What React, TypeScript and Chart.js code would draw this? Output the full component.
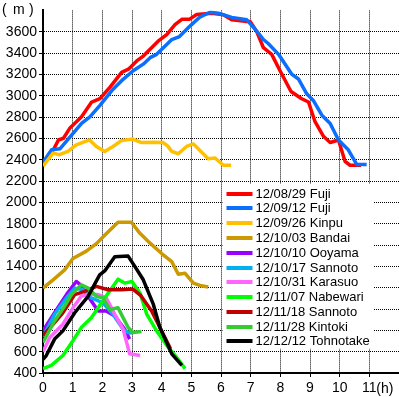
import { useEffect, useRef } from 'react';
import { Chart, registerables } from 'chart.js';

Chart.register(...registerables);

const FONT = "'Liberation Sans', Arial, sans-serif";

// ---- data ----
const seriesNames = [
  '12/08/29 Fuji',
  '12/09/12 Fuji',
  '12/09/26 Kinpu',
  '12/10/03 Bandai',
  '12/10/10 Ooyama',
  '12/10/17 Sannoto',
  '12/10/31 Karasuo',
  '12/11/07 Nabewari',
  '12/11/18 Sannoto',
  '12/11/28 Kintoki',
  '12/12/12 Tohnotake',
];

const seriesColors = [
  '#FF0000',
  '#0A6EFF',
  '#FFC000',
  '#CC9900',
  '#9900FF',
  '#00B0F0',
  '#FF66FF',
  '#00FF00',
  '#C00000',
  '#33CC33',
  '#000000',
];

const fuji0829Hours = [0, 0.35, 0.52, 0.69, 0.9, 1.3, 1.64, 1.92, 2.26, 2.65, 2.88, 3.16, 3.38, 3.66, 3.88, 4.17, 4.45, 4.68, 4.93, 5.18, 5.69, 6.08, 6.36, 6.81, 6.98, 7.2, 7.43, 7.71, 7.99, 8.36, 8.72, 8.95, 9.17, 9.46, 9.68, 9.96, 10.18, 10.35, 10.72];
const fuji0829Meters = [2354, 2493, 2585, 2601, 2694, 2802, 2941, 2972, 3080, 3219, 3249, 3326, 3372, 3450, 3511, 3573, 3666, 3716, 3716, 3762, 3774, 3759, 3712, 3697, 3697, 3604, 3450, 3388, 3234, 3040, 2972, 2941, 2756, 2617, 2561, 2585, 2385, 2348, 2348];

const fuji0912Hours = [0, 0.29, 0.57, 0.97, 1.3, 1.58, 1.92, 2.32, 2.65, 3.04, 3.38, 3.61, 3.83, 4.17, 4.34, 4.6, 4.98, 5.3, 5.63, 5.91, 6.36, 6.87, 7.21, 7.43, 7.6, 7.94, 8.38, 8.61, 8.89, 9.11, 9.4, 9.68, 9.96, 10.29, 10.58, 10.91];
const fuji0912Meters = [2376, 2493, 2502, 2632, 2740, 2802, 2910, 3048, 3141, 3234, 3296, 3357, 3388, 3481, 3527, 3555, 3660, 3740, 3783, 3774, 3734, 3712, 3604, 3527, 3487, 3388, 3203, 3157, 3018, 2956, 2817, 2740, 2585, 2493, 2354, 2354];

const kinpuHours = [0, 0.34, 0.56, 0.84, 1.12, 1.57, 1.8, 2.08, 2.36, 2.64, 3.03, 3.32, 3.76, 4.05, 4.2, 4.34, 4.56, 4.84, 5.07, 5.57, 5.8, 6.08, 6.34];
const kinpuMeters = [2340, 2462, 2447, 2478, 2539, 2585, 2524, 2478, 2524, 2579, 2594, 2561, 2564, 2561, 2530, 2478, 2456, 2524, 2548, 2410, 2416, 2348, 2348];

const bandaiHours = [0, 0.34, 0.73, 1.01, 1.46, 1.8, 2.13, 2.53, 2.98, 3.26, 3.6, 4.0, 4.34, 4.56, 4.79, 5.07, 5.29, 5.57];
const bandaiMeters = [1196, 1274, 1367, 1474, 1543, 1613, 1706, 1814, 1814, 1712, 1620, 1520, 1444, 1326, 1335, 1243, 1221, 1206];

const ooyamaHours = [0, 0.39, 0.79, 1.12, 1.24, 1.52, 1.86, 2.13, 2.42, 2.75, 2.92];
const ooyamaMeters = [795, 965, 1135, 1258, 1233, 1119, 981, 981, 934, 811, 718];

const sannoto1017Hours = [0, 0.39, 0.79, 1.07, 1.35, 1.63, 2.02, 2.36, 2.7, 2.87, 3.0];
const sannoto1017Meters = [740, 950, 1104, 1196, 1181, 1104, 1057, 950, 811, 780, 775];

const karasuoHours = [0, 0.23, 0.67, 1.01, 1.29, 1.52, 1.86, 2.13, 2.42, 2.7, 2.92, 3.27];
const karasuoMeters = [600, 733, 857, 1011, 1119, 1135, 1135, 1104, 950, 811, 580, 564];

const nabewariHours = [0, 0.28, 0.67, 1.01, 1.29, 1.63, 2.08, 2.53, 2.75, 3.0, 3.27, 3.5, 3.83, 4.22, 4.5, 4.79];
const nabewariMeters = [441, 471, 564, 703, 826, 919, 1104, 1280, 1243, 1258, 1150, 950, 795, 641, 548, 441];

const sannoto1118Hours = [0, 0.34, 0.67, 1.07, 1.4, 1.8, 2.19, 2.64, 3.03, 3.3, 3.66, 3.94, 4.22, 4.3];
const sannoto1118Meters = [749, 857, 965, 1135, 1166, 1212, 1181, 1181, 1187, 1125, 981, 826, 672, 626];

const kintokiHours = [0, 0.39, 0.73, 0.96, 1.29, 1.52, 1.8, 2.02, 2.25, 2.53, 2.87, 3.03, 3.32];
const kintokiMeters = [687, 888, 1027, 1135, 1228, 1196, 1119, 1104, 996, 1011, 826, 780, 789];

const tohnotakeHours = [0, 0.11, 0.39, 0.67, 1.07, 1.52, 1.91, 2.08, 2.42, 2.87, 3.1, 3.38, 3.72, 3.94, 4.34, 4.68];
const tohnotakeMeters = [527, 564, 718, 795, 965, 1119, 1320, 1357, 1490, 1496, 1397, 1274, 1043, 826, 580, 471];

const hoursList = [fuji0829Hours, fuji0912Hours, kinpuHours, bandaiHours, ooyamaHours, sannoto1017Hours, karasuoHours, nabewariHours, sannoto1118Hours, kintokiHours, tohnotakeHours];
const metersList = [fuji0829Meters, fuji0912Meters, kinpuMeters, bandaiMeters, ooyamaMeters, sannoto1017Meters, karasuoMeters, nabewariMeters, sannoto1118Meters, kintokiMeters, tohnotakeMeters];

const yMin = 400;
const yMax = 3800;
const yStep = 200;
const xMin = 0;
const xMax = 12;
const yUnit = ['(', 'm', ')'];
const xUnit = '(h)';

const overlayPlugin = {
  id: 'overlay',
  afterDraw(chart: any) {
    const ctx = chart.ctx as CanvasRenderingContext2D;
    const xs = chart.scales.x;
    const ys = chart.scales.y;
    ctx.save();
    // legend box
    const left = xs.getPixelForValue(6) + 1.5;
    const right = xs.getPixelForValue(11) + 4;
    const top = ys.getPixelForValue(2200) + 3;
    const bottom = ys.getPixelForValue(600) - 3;
    ctx.fillStyle = '#ffffff';
    ctx.fillRect(left, top, right - left, bottom - top);
    ctx.font = `13px ${FONT}`;
    ctx.textBaseline = 'middle';
    ctx.textAlign = 'left';
    const rowH = 14.76;
    const firstRow = top + 9.7;
    seriesNames.forEach((name, i) => {
      const y = Math.round(firstRow + i * rowH);
      ctx.strokeStyle = seriesColors[i];
      ctx.lineWidth = 4;
      ctx.beginPath();
      ctx.moveTo(left + 4, y);
      ctx.lineTo(left + 30, y);
      ctx.stroke();
      ctx.fillStyle = '#000';
      ctx.fillText(name, left + 33, y + 0.5);
    });
    // unit labels
    ctx.font = `14px ${FONT}`;
    ctx.fillStyle = '#000';
    ctx.fillText(yUnit[0], 2, 10);
    ctx.fillText(yUnit[1], 13, 10);
    ctx.fillText(yUnit[2], 29, 10);
    ctx.fillText(xUnit, xs.getPixelForValue(11) + 7, 389);
    ctx.restore();
  },
};

export default function App() {
  const ref = useRef<HTMLCanvasElement>(null);
  useEffect(() => {
    document.body.style.margin = '0';
    const canvas = ref.current;
    if (!canvas) return;
    const datasets = seriesNames.map((name, i) => ({
      label: name,
      data: hoursList[i].map((h, j) => ({ x: h, y: metersList[i][j] })),
      borderColor: seriesColors[i],
      backgroundColor: seriesColors[i],
      borderWidth: 3.5,
      pointRadius: 0,
      pointHoverRadius: 0,
      tension: 0,
      fill: false,
      borderJoinStyle: 'round' as const,
      order: 20 - i,
    }));
    const hideAt = (v: number) => (ctx: any) =>
      ctx.tick && ctx.tick.value === v ? 'rgba(0,0,0,0)' : '#000';
    const chart = new Chart(canvas, {
      type: 'line',
      data: { datasets },
      plugins: [overlayPlugin],
      options: {
        animation: false,
        responsive: false,
        devicePixelRatio: 1,
        layout: { padding: { top: 5, right: 0, left: 0, bottom: 0 } },
        plugins: { legend: { display: false }, tooltip: { enabled: false } },
        scales: {
          x: {
            type: 'linear',
            min: xMin,
            max: xMax,
            afterFit: (s: any) => { s.height = 24; },
            ticks: {
              stepSize: 1,
              color: '#000',
              padding: 3,
              font: { family: FONT, size: 14 },
              maxRotation: 0,
              autoSkip: false,
              callback: (v: any) => (v === xMax ? null : String(v)),
            },
            grid: {
              color: hideAt(xMax),
              lineWidth: 1,
              tickLength: 4,
              tickColor: hideAt(xMax),
              tickWidth: 1,
            },
            border: { display: true, color: '#000', width: 2, dash: [1, 1] },
          },
          y: {
            type: 'linear',
            min: yMin,
            max: yMax,
            afterFit: (s: any) => { s.width = 43; },
            ticks: {
              stepSize: yStep,
              color: '#000',
              padding: 2,
              font: { family: FONT, size: 14 },
              autoSkip: false,
              callback: (v: any) => (v === yMax ? null : String(v)),
            },
            grid: {
              color: hideAt(yMax),
              lineWidth: 1,
              tickLength: 4,
              tickColor: hideAt(yMax),
              tickWidth: 1,
            },
            border: { display: true, color: '#000', width: 2, dash: [1, 1] },
          },
        },
      },
    } as any);
    return () => chart.destroy();
  }, []);
  return <canvas ref={ref} width={399} height={397} style={{ display: 'block' }} />;
}
